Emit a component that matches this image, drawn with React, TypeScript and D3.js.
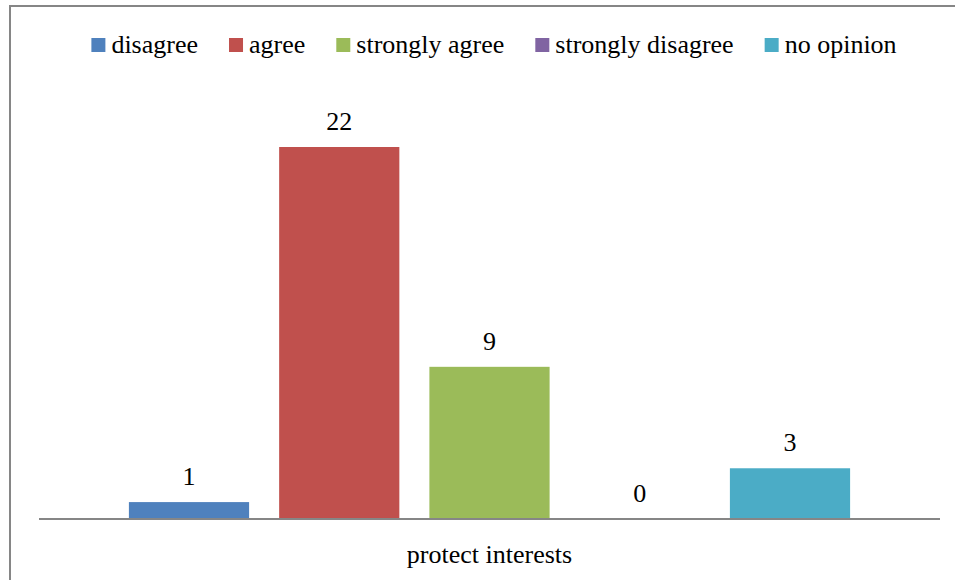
import React, { useRef, useEffect } from 'react';
import * as d3 from 'd3';

const categories = ['protect interests'];
const seriesNames = ['disagree', 'agree', 'strongly agree', 'strongly disagree', 'no opinion'];
const seriesValues = [1, 22, 9, 0, 3];
const seriesColors = ['#4F81BD', '#C0504D', '#9BBB59', '#8064A2', '#4BACC6'];

const FONT = 'Liberation Serif, Times New Roman, serif';

const App = () => {
  const svgRef = useRef<SVGSVGElement>(null);

  useEffect(() => {
    const width = 955;
    const height = 580;
    const fontSize = 26;

    const svg = d3.select(svgRef.current)
      .attr('width', width)
      .attr('height', height);
    svg.selectAll('*').remove();

    svg.append('rect')
      .attr('width', width)
      .attr('height', height)
      .attr('fill', '#fff');

    // chart frame (right and bottom edges fall outside the picture)
    svg.append('rect')
      .attr('x', 10)
      .attr('y', 6)
      .attr('width', width + 20)
      .attr('height', height + 20)
      .attr('fill', 'none')
      .attr('stroke', '#868686')
      .attr('stroke-width', 2);

    const plot = { left: 39, right: 940, top: 147, bottom: 519 };

    const x0 = d3.scaleBand()
      .domain(categories)
      .range([plot.left, plot.right])
      .paddingInner(0)
      .paddingOuter(90 / 722);

    const x1 = d3.scaleBand()
      .domain(seriesNames)
      .range([0, x0.bandwidth()])
      .paddingInner(0.2)
      .paddingOuter(0);

    const y = d3.scaleLinear()
      .domain([0, d3.max(seriesValues) as number])
      .range([plot.bottom, plot.top]);

    const data = seriesNames.map((name, i) => ({
      name,
      value: seriesValues[i],
      color: seriesColors[i],
      category: categories[0],
    }));

    const g = svg.append('g');

    g.selectAll('.bar')
      .data(data)
      .enter()
      .append('rect')
      .attr('class', 'bar')
      .attr('x', d => (x0(d.category) as number) + (x1(d.name) as number))
      .attr('y', d => y(d.value))
      .attr('width', x1.bandwidth())
      .attr('height', d => y(0) - y(d.value))
      .attr('fill', d => d.color);

    g.selectAll('.value-label')
      .data(data)
      .enter()
      .append('text')
      .attr('class', 'value-label')
      .attr('x', d => (x0(d.category) as number) + (x1(d.name) as number) + x1.bandwidth() / 2)
      .attr('y', d => y(d.value) - 17)
      .attr('text-anchor', 'middle')
      .attr('font-family', FONT)
      .attr('font-size', fontSize)
      .attr('fill', '#000')
      .text(d => d.value);

    // category axis
    svg.append('line')
      .attr('x1', plot.left)
      .attr('x2', plot.right)
      .attr('y1', plot.bottom)
      .attr('y2', plot.bottom)
      .attr('stroke', '#868686')
      .attr('stroke-width', 2);

    svg.selectAll('.cat-label')
      .data(categories)
      .enter()
      .append('text')
      .attr('class', 'cat-label')
      .attr('x', d => (x0(d) as number) + x0.bandwidth() / 2)
      .attr('y', 563)
      .attr('text-anchor', 'middle')
      .attr('font-family', FONT)
      .attr('font-size', fontSize)
      .attr('fill', '#000')
      .text(d => d);

    // legend, laid out from measured text widths and centred
    const legend = svg.append('g');
    const swatch = 14;
    const textGap = 6;
    const itemGap = 31;
    let cursor = 0;
    data.forEach(d => {
      const item = legend.append('g');
      item.append('rect')
        .attr('x', 0)
        .attr('y', -15)
        .attr('width', swatch)
        .attr('height', swatch)
        .attr('fill', d.color);
      const t = item.append('text')
        .attr('x', swatch + textGap)
        .attr('y', 0)
        .attr('font-family', FONT)
        .attr('font-size', fontSize)
        .attr('fill', '#000')
        .text(d.name);
      const w = (t.node() as SVGTextElement).getComputedTextLength();
      item.attr('transform', `translate(${cursor},0)`);
      cursor += swatch + textGap + w + itemGap;
    });
    const total = cursor - itemGap;
    legend.attr('transform', `translate(${494 - total / 2},53)`);
  }, []);

  return (
    <svg
      ref={svgRef}
      style={{ position: 'absolute', left: 0, top: 0, display: 'block' }}
    ></svg>
  );
};

export default App;
